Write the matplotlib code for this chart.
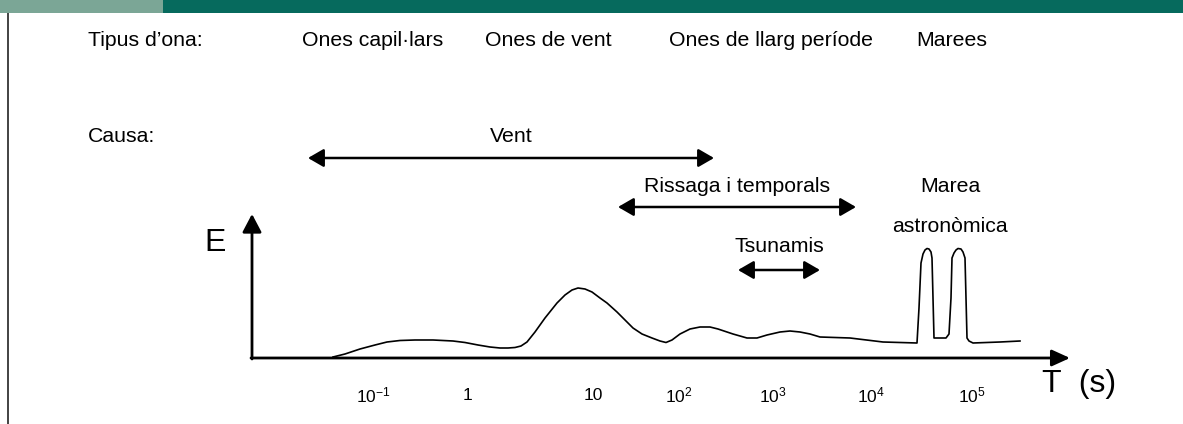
import matplotlib
matplotlib.use("Agg")
import matplotlib.pyplot as plt
from matplotlib.patches import Rectangle

plt.rcParams['font.family'] = ['Liberation Sans', 'DejaVu Sans']
plt.rcParams['mathtext.fontset'] = 'custom'
plt.rcParams['mathtext.rm'] = 'Liberation Sans'
plt.rcParams['mathtext.it'] = 'Liberation Sans'

# ---- data ----
wave_types = ["Ones capil·lars", "Ones de vent", "Ones de llarg període", "Marees"]
wave_type_x = [373, 548, 771, 952]

causes = ["Vent", "Rissaga i temporals", "Tsunamis"]
cause_start = [308, 618, 738]
cause_end = [714, 856, 820]
cause_row = [158, 207, 270]
cause_label_y = [137, 187, 246]

tick_labels = [r"$10^{-1}$", "1", "10", r"$10^{2}$", r"$10^{3}$", r"$10^{4}$", r"$10^{5}$"]
tick_pos = [373, 468, 593, 679, 773, 871, 972]

# energy spectrum (position along T axis, height of E above the axis)
curve_T = [333, 345, 360, 375, 387, 400, 415, 433, 453, 465, 478, 490, 500, 508, 515, 521, 527,
           535, 545, 557, 565, 572, 578, 585, 592, 600, 607, 617, 625, 633, 642, 652, 660, 666,
           672, 680, 690, 700, 710, 718, 733, 747, 757, 767, 780, 790, 800, 810, 820, 850, 883, 917,
           919, 921, 923, 925, 927, 929, 931, 932, 933, 934, 937, 946, 949, 951, 952, 954, 956, 958,
           961, 963, 965, 966, 967, 969, 973, 1000, 1020]
curve_E = [1, 4, 9, 13, 16, 17.5, 18, 18, 17, 15.5, 13, 11, 10, 10, 10.5, 12, 16,
           26, 40, 55, 63, 68, 70, 69, 66, 60, 55, 46, 38, 30, 24, 20, 17, 15.5,
           18, 24, 29, 31, 31, 29, 24, 20, 20, 23, 26, 27, 26, 24, 21, 20, 16, 15,
           50, 95, 104, 108, 109.5, 109, 106, 100, 60, 20, 20, 20, 24, 60, 100, 105, 108, 109.5,
           109, 106, 100, 60, 20, 17, 15, 16, 17]

axis_origin = (252, 358)
axis_x_end = 1070
axis_y_end = 214

# ---- figure ----
fig = plt.figure(figsize=(11.83, 4.24), dpi=100)
ax = fig.add_axes([0, 0, 1, 1])
ax.set_xlim(0, 1183)
ax.set_ylim(424, 0)
ax.axis('off')

# top band and left rule
ax.add_patch(Rectangle((0, 0), 163, 12.5, facecolor='#7ba696', edgecolor='none'))
ax.add_patch(Rectangle((163, 0), 1020, 12.5, facecolor='#066a5d', edgecolor='none'))
ax.plot([8.5, 8.5], [12.5, 424], color='#222222', lw=1.2, solid_capstyle='butt')

fs = 15.3
ax.text(88, 41, "Tipus d’ona:", fontsize=fs, ha='left', va='center')
for name, x in zip(wave_types, wave_type_x):
    ax.text(x, 41, name, fontsize=fs, ha='center', va='center')

ax.text(88, 136, "Causa:", fontsize=fs, ha='left', va='center')
for name, x0, x1, yr, yl in zip(causes, cause_start, cause_end, cause_row, cause_label_y):
    ax.annotate('', xy=(x1, yr), xytext=(x0, yr),
                arrowprops=dict(arrowstyle='<|-|>,head_length=0.95,head_width=0.55',
                                mutation_scale=10, lw=1.8, color='black',
                                shrinkA=0, shrinkB=0))
    ax.text((x0 + x1) / 2, yl, name, fontsize=fs, ha='center', va='center')

ax.text(950, 187, "Marea", fontsize=fs, ha='center', va='center')
ax.text(950, 227, "astronòmica", fontsize=fs, ha='center', va='center')

# axes with arrows
ox, oy = axis_origin
ax.annotate('', xy=(axis_x_end, oy), xytext=(ox - 1, oy),
            arrowprops=dict(arrowstyle='-|>,head_length=1.1,head_width=0.5',
                            mutation_scale=10, lw=2.0, color='black',
                            shrinkA=0, shrinkB=0))
ax.annotate('', xy=(ox, axis_y_end), xytext=(ox, oy + 1),
            arrowprops=dict(arrowstyle='-|>,head_length=1.1,head_width=0.58',
                            mutation_scale=10, lw=2.0, color='black',
                            shrinkA=0, shrinkB=0))

ax.text(215, 243, "E", fontsize=23, ha='center', va='center')
ax.text(1079, 384, "T  (s)", fontsize=23, ha='center', va='center')

for lab, x in zip(tick_labels, tick_pos):
    ax.text(x, 395, lab, fontsize=12.5, ha='center', va='center')

# spectrum curve
ax.plot(curve_T, [oy - e for e in curve_E], color='black', lw=1.2,
        solid_joinstyle='round')

fig.savefig("out.png", dpi=100)
